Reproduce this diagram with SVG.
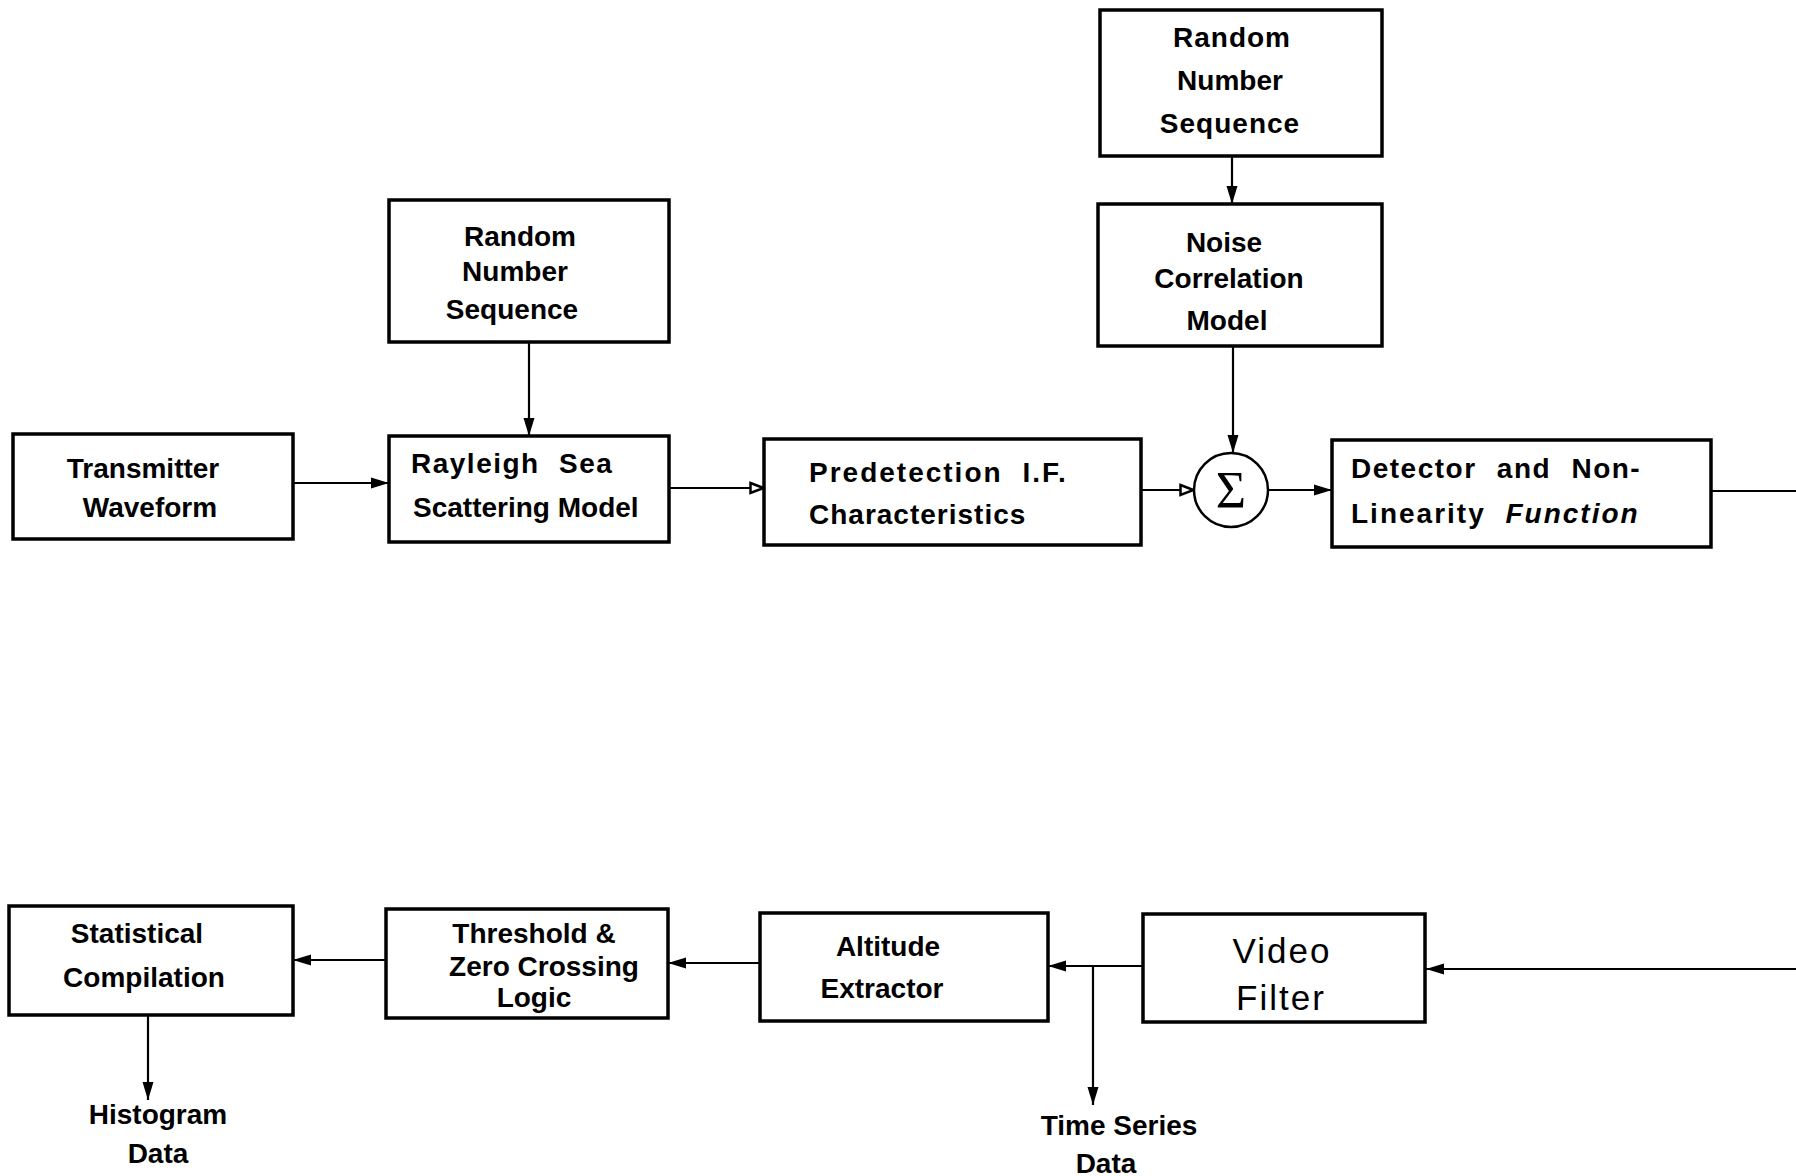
<svg xmlns="http://www.w3.org/2000/svg" width="1796" height="1176" viewBox="0 0 1796 1176">
<style>
.box{fill:#fff;stroke:#000;stroke-width:3.5}
.ln{fill:none;stroke:#000;stroke-width:2.2}
text{font-family:"Liberation Sans",Arial,sans-serif;font-weight:bold;font-size:28px;fill:#000}
.c{text-anchor:middle}
.big{font-size:35px;font-weight:normal;letter-spacing:2px}
.sp{letter-spacing:1.5px;word-spacing:10px}
</style>
<defs>
<marker id="af" viewBox="0 0 18 14" refX="18" refY="7" markerWidth="18" markerHeight="14" markerUnits="userSpaceOnUse" orient="auto"><path d="M0,1.5 L18,7 L0,12.5 Z" fill="#000"/></marker>
<marker id="ao" viewBox="0 0 16 14" refX="15" refY="7" markerWidth="16" markerHeight="14" markerUnits="userSpaceOnUse" orient="auto"><path d="M1.5,2 L14.5,7 L1.5,12 Z" fill="#fff" stroke="#000" stroke-width="2.5"/></marker>
</defs>
<rect width="1796" height="1176" fill="#fff"/>
<g id="connectors">
<line class="ln" x1="293" y1="483" x2="389" y2="483" marker-end="url(#af)"/>
<line class="ln" x1="529" y1="342" x2="529" y2="436" marker-end="url(#af)"/>
<line class="ln" x1="669" y1="488" x2="764" y2="488" marker-end="url(#ao)"/>
<line class="ln" x1="1141" y1="490" x2="1194" y2="490" marker-end="url(#ao)"/>
<line class="ln" x1="1233" y1="346" x2="1233" y2="453" marker-end="url(#af)"/>
<line class="ln" x1="1232" y1="156" x2="1232" y2="204" marker-end="url(#af)"/>
<line class="ln" x1="1268" y1="490" x2="1332" y2="490" marker-end="url(#af)"/>
<line class="ln" x1="1711" y1="491" x2="1796" y2="491"/>
<line class="ln" x1="1796" y1="969" x2="1426" y2="969" marker-end="url(#af)"/>
<line class="ln" x1="1143" y1="966" x2="1048" y2="966" marker-end="url(#af)"/>
<line class="ln" x1="1093" y1="966" x2="1093" y2="1105" marker-end="url(#af)"/>
<line class="ln" x1="760" y1="963" x2="668" y2="963" marker-end="url(#af)"/>
<line class="ln" x1="386" y1="960" x2="293" y2="960" marker-end="url(#af)"/>
<line class="ln" x1="148" y1="1015" x2="148" y2="1100" marker-end="url(#af)"/>
</g>
<g id="transmitter"><rect class="box" x="13" y="434" width="280" height="105"/>
<text class="c" x="143" y="478">Transmitter</text><text class="c" x="150" y="517">Waveform</text></g>
<g id="random1"><rect class="box" x="389" y="200" width="280" height="142"/>
<text class="c" x="520" y="246">Random</text><text class="c" x="515" y="281">Number</text><text class="c" x="512" y="319">Sequence</text></g>
<g id="rayleigh"><rect class="box" x="389" y="436" width="280" height="106"/>
<text class="sp" x="411" y="473">Rayleigh Sea</text><text x="413" y="517">Scattering Model</text></g>
<g id="predetection"><rect class="box" x="764" y="439" width="377" height="106"/>
<text class="sp" x="809" y="482" style="letter-spacing:2px">Predetection I.F.</text><text x="809" y="524" style="letter-spacing:1px">Characteristics</text></g>
<g id="sum"><circle cx="1231" cy="490" r="37" fill="#fff" stroke="#000" stroke-width="2.5"/>
<text class="c" x="1231" y="508" style="font-family:'Liberation Serif',serif;font-weight:normal;font-size:52px">Σ</text></g>
<g id="random2"><rect class="box" x="1100" y="10" width="282" height="146"/>
<text class="c" x="1232" y="47" style="letter-spacing:1px">Random</text><text class="c" x="1230" y="90">Number</text><text class="c" x="1230" y="133" style="letter-spacing:1px">Sequence</text></g>
<g id="noise"><rect class="box" x="1098" y="204" width="284" height="142"/>
<text class="c" x="1224" y="252">Noise</text><text class="c" x="1229" y="288">Correlation</text><text class="c" x="1227" y="330">Model</text></g>
<g id="detector"><rect class="box" x="1332" y="440" width="379" height="107"/>
<text x="1351" y="478" style="letter-spacing:1.5px;word-spacing:11px">Detector and Non-</text><text x="1351" y="523" style="letter-spacing:2px;word-spacing:10px">Linearity <tspan font-style="italic">Function</tspan></text></g>
<g id="video"><rect class="box" x="1143" y="914" width="282" height="108"/>
<text class="c big" x="1282" y="963">Video</text><text class="c big" x="1281" y="1010">Filter</text></g>
<g id="altitude"><rect class="box" x="760" y="913" width="288" height="108"/>
<text class="c" x="888" y="956">Altitude</text><text class="c" x="882" y="998">Extractor</text></g>
<g id="threshold"><rect class="box" x="386" y="909" width="282" height="109"/>
<text class="c" x="534" y="943">Threshold &amp;</text><text class="c" x="544" y="976">Zero Crossing</text><text class="c" x="534" y="1007">Logic</text></g>
<g id="statistical"><rect class="box" x="9" y="906" width="284" height="109"/>
<text class="c" x="137" y="943">Statistical</text><text class="c" x="144" y="987">Compilation</text></g>
<g id="histogram"><text class="c" x="158" y="1124">Histogram</text><text class="c" x="158" y="1163">Data</text></g>
<g id="timeseries"><text class="c" x="1119" y="1135">Time Series</text><text class="c" x="1106" y="1173">Data</text></g>
</svg>
